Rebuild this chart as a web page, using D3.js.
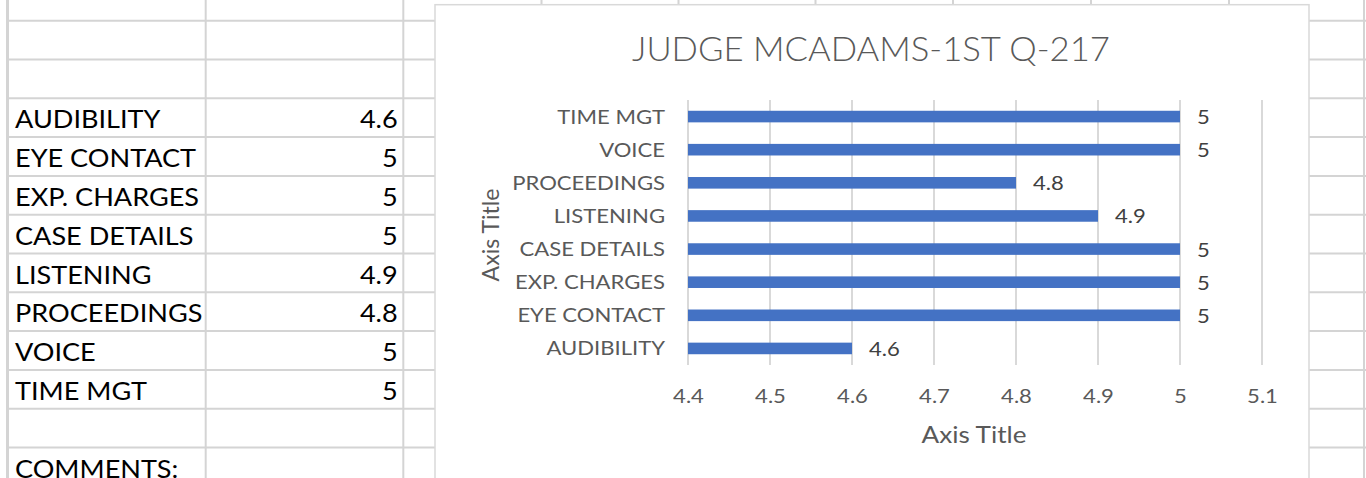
<!DOCTYPE html>
<html>
<head>
<meta charset="utf-8">
<script src="https://cdn.jsdelivr.net/npm/d3@7"></script>
<style>
  html, body { margin: 0; padding: 0; background: #ffffff; }
  svg { display: block; }
  text { font-family: Lato, "Open Sans", "DejaVu Sans", sans-serif; }
</style>
</head>
<body>
<svg id="chart" width="1366" height="478"></svg>
<script>
// ---- data ----
const categories = ["AUDIBILITY", "EYE CONTACT", "EXP. CHARGES", "CASE DETAILS", "LISTENING", "PROCEEDINGS", "VOICE", "TIME MGT"];
const scores = [4.6, 5, 5, 5, 4.9, 4.8, 5, 5];
const xTicks = [4.4, 4.5, 4.6, 4.7, 4.8, 4.9, 5, 5.1];
const xDomain = [4.4, 5.1];
const chartTitle = "JUDGE MCADAMS-1ST Q-217";
const xAxisTitle = "Axis Title";
const yAxisTitle = "Axis Title";
const commentsLabel = "COMMENTS:";

// ---- layout ----
const W = 1366, H = 478;
const svg = d3.select("#chart");
const gridColor = "#d4d4d4";
const rowTop0 = 20.7, rowH = 38.8, nRows = 12;
const colXs = [205.7, 403.3, 541.5, 678.5, 815.5, 953, 1091, 1229, 1364];

// helper: horizontal stretch to mimic the reference's wide rendering
function measure(text, size, weight) {
  const t = svg.append("text").attr("font-size", size).attr("font-weight", weight || 400).text(text);
  const w = t.node().getComputedTextLength();
  t.remove();
  return w;
}
function stretch(sel, k) {
  sel.each(function () {
    const w = this.getComputedTextLength();
    this.setAttribute("textLength", (w * k).toFixed(2));
    this.setAttribute("lengthAdjust", "spacingAndGlyphs");
  });
}

// ---- spreadsheet grid ----
const grid = svg.append("g");
d3.range(nRows).forEach(i => {
  const y = rowTop0 + rowH * i;
  grid.append("line").attr("x1", 7).attr("x2", W).attr("y1", y).attr("y2", y)
    .attr("stroke", gridColor).attr("stroke-width", 2);
});
grid.append("line").attr("x1", 7.5).attr("x2", 7.5).attr("y1", 0).attr("y2", H)
  .attr("stroke", gridColor).attr("stroke-width", 3);
colXs.forEach(x => {
  grid.append("line").attr("x1", x).attr("x2", x).attr("y1", 0).attr("y2", H)
    .attr("stroke", gridColor).attr("stroke-width", 2);
});

// ---- spreadsheet text ----
const cellSize = 25.5;
const kCell = 184 / measure("EXP. CHARGES", cellSize);
const cells = svg.append("g").attr("font-size", cellSize).attr("fill", "#000");
const firstDataRow = 2;
const labelsCells = cells.selectAll("text.lab").data(categories).join("text")
  .attr("class", "lab")
  .attr("x", 15)
  .attr("y", (d, i) => rowTop0 + rowH * (firstDataRow + i) + 30)
  .text(d => d);
const valueCells = cells.selectAll("text.val").data(scores).join("text")
  .attr("class", "val")
  .attr("x", 397.7)
  .attr("text-anchor", "end")
  .attr("y", (d, i) => rowTop0 + rowH * (firstDataRow + i) + 30)
  .text(d => String(d));
const commentCell = cells.append("text")
  .attr("x", 15).attr("y", rowTop0 + rowH * 11 + 30).text(commentsLabel);
stretch(labelsCells, kCell);
stretch(valueCells, kCell);
stretch(commentCell, kCell);

// ---- chart box ----
const box = { x: 435, y: 4.7, w: 874, h: 500 };
svg.append("rect").attr("x", box.x).attr("y", box.y).attr("width", box.w).attr("height", box.h)
  .attr("fill", "#ffffff").attr("stroke", "#d9d9d9").attr("stroke-width", 1.5);

// ---- chart scales ----
const plot = { left: 688, right: 1262, top: 100, bottom: 365 };
const x = d3.scaleLinear().domain(xDomain).range([plot.left, plot.right]);
const y = d3.scaleBand().domain(categories).range([plot.bottom, plot.top]).paddingInner(0.65).paddingOuter(0.325);

const chart = svg.append("g");

// gridlines
chart.append("g").selectAll("line").data(xTicks).join("line")
  .attr("x1", d => x(d)).attr("x2", d => x(d))
  .attr("y1", plot.top).attr("y2", plot.bottom)
  .attr("stroke", "#d9d9d9").attr("stroke-width", 2);

// bars
chart.append("g").selectAll("rect").data(categories).join("rect")
  .attr("x", x(xDomain[0]))
  .attr("y", d => y(d))
  .attr("width", (d, i) => x(scores[i]) - x(xDomain[0]))
  .attr("height", y.bandwidth())
  .attr("fill", "#4472c4");

// axis label sizes
const lblSize = 20;
const kLbl = 150 / measure("EXP. CHARGES", lblSize);

// category labels (y axis)
const yAxisG = chart.append("g")
  .attr("transform", `translate(${plot.left - 23},0)`)
  .call(d3.axisLeft(y).tickSize(0).tickPadding(0));
yAxisG.select(".domain").remove();
yAxisG.selectAll("text")
  .attr("font-family", null)
  .attr("font-size", lblSize)
  .attr("fill", "#595959")
  .attr("dy", null)
  .attr("y", 7);
stretch(yAxisG.selectAll("text"), kLbl);

// x axis tick labels
const xAxisG = chart.append("g")
  .attr("transform", `translate(0,${plot.bottom})`)
  .call(d3.axisBottom(x).tickValues(xTicks).tickSize(0).tickPadding(0).tickFormat(d => String(d)));
xAxisG.select(".domain").remove();
xAxisG.selectAll("text")
  .attr("font-family", null)
  .attr("font-size", lblSize)
  .attr("fill", "#595959")
  .attr("dy", null)
  .attr("y", 37.7);
stretch(xAxisG.selectAll("text"), kLbl);

// data labels
const dataLbls = chart.append("g").selectAll("text").data(categories).join("text")
  .attr("x", (d, i) => x(scores[i]) + 17)
  .attr("y", d => y(d) + y.bandwidth() / 2 + 7.5)
  .attr("font-size", lblSize)
  .attr("fill", "#404040")
  .text((d, i) => String(scores[i]));
stretch(dataLbls, kLbl);

// title
const titleSize = 33;
const kTitle = 478 / measure(chartTitle, titleSize, 300);
const titleT = chart.append("text")
  .attr("x", 871).attr("y", 61)
  .attr("text-anchor", "middle")
  .attr("font-size", titleSize).attr("font-weight", 300)
  .attr("fill", "#595959")
  .text(chartTitle);
stretch(titleT, kTitle);

// axis titles
const axTitleSize = 23.3;
const kAx = 105 / measure(xAxisTitle, axTitleSize);
const xTitle = chart.append("text")
  .attr("x", 974).attr("y", 443.3)
  .attr("text-anchor", "middle")
  .attr("font-size", axTitleSize).attr("fill", "#595959")
  .text(xAxisTitle);
stretch(xTitle, kAx);
const yTitle = chart.append("text")
  .attr("transform", "translate(499,235) rotate(-90)")
  .attr("text-anchor", "middle")
  .attr("font-size", axTitleSize).attr("fill", "#595959")
  .text(yAxisTitle);
stretch(yTitle, 93 / measure(yAxisTitle, axTitleSize));
</script>
</body>
</html>
